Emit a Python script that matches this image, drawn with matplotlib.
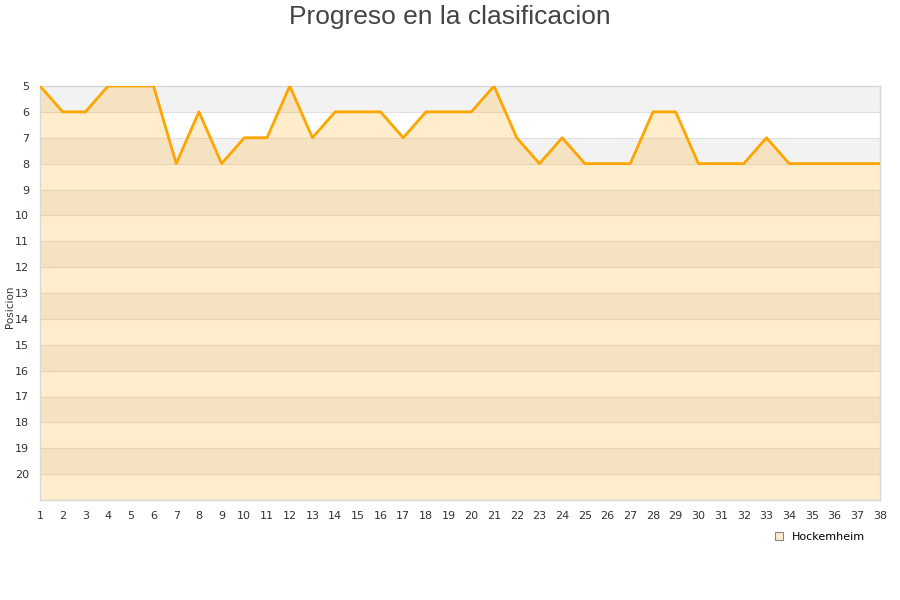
import matplotlib
matplotlib.use("Agg")
import matplotlib.pyplot as plt
from matplotlib.patches import Rectangle

rounds = list(range(1, 39))
positions = [5, 6, 6, 5, 5, 5, 8, 6, 8, 7, 7, 5, 7, 6, 6, 6, 7, 6, 6, 6,
             5, 7, 8, 7, 8, 8, 8, 6, 6, 8, 8, 8, 7, 8, 8, 8, 8, 8]
y_ticks = list(range(5, 21))
series_name = "Hockemheim"
title = "Progreso en la clasificacion"
y_label = "Posicion"

fig = plt.figure(figsize=(9, 6), dpi=100)
ax = fig.add_axes([40 / 900, 100 / 600, 840 / 900, 414 / 600])

# alternating bands
for k in range(5, 21, 2):
    ax.axhspan(k, k + 1, color="#f2f2f2", lw=0, zorder=0)
for k in range(5, 22):
    ax.axhline(k, color="#e0e0e0", lw=0.8, zorder=1)

ax.fill_between(rounds, positions, 21, color="#ffa500", alpha=0.2, lw=0, zorder=2)
ax.plot(rounds, positions, color="#ffa500", lw=2.0, zorder=3)

ax.set_xlim(1, 38)
ax.set_ylim(21, 5)
ax.set_xticks(rounds)
ax.set_yticks(y_ticks)
ax.tick_params(axis="both", length=0, labelsize=8, colors="#333333")
ax.tick_params(axis="x", pad=8)
ax.tick_params(axis="y", pad=8)
for s in ax.spines.values():
    s.set_color("#d8d8d8")
    s.set_linewidth(1)

fig.text(0.5, 1 - 24 / 600, title, ha="center", va="baseline", fontsize=19,
         color="#444444", family="Liberation Sans")
fig.text(10 / 900, 293 / 600, y_label, rotation=90, ha="center", va="center",
         fontsize=7.5, color="#333333")

handle = Rectangle((0, 0), 1, 1, facecolor="#ffedcc", edgecolor="#888888", lw=0.8)
fig.legend([handle], [series_name], loc="center", bbox_to_anchor=(820 / 900, 1 - 537 / 600),
           frameon=False, fontsize=8, handlelength=0.7, handleheight=0.7, handletextpad=0.8)

fig.savefig("out.png", dpi=100)
